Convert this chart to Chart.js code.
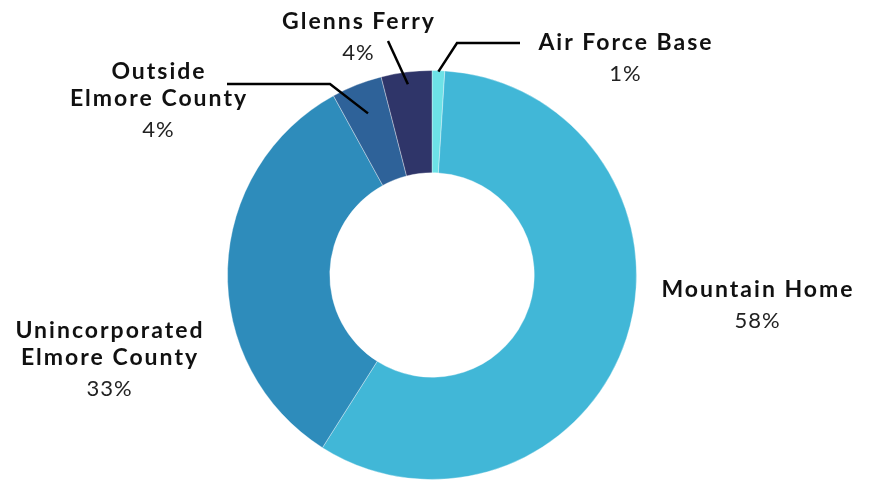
<!DOCTYPE html>
<html>
<head>
<meta charset="utf-8">
<script src="https://cdn.jsdelivr.net/npm/chart.js@4"></script>
<style>
html,body{margin:0;padding:0;background:#fff;}
#wrap{width:871px;height:480px;position:relative;}
</style>
</head>
<body>
<div id="wrap"><canvas id="c" width="871" height="480"></canvas></div>
<script>
const categories = ["Air Force Base", "Mountain Home", "Unincorporated Elmore County", "Outside Elmore County", "Glenns Ferry"];
const values = [1, 58, 33, 4, 4];
const percentLabels = ["1%", "58%", "33%", "4%", "4%"];
const nameLines = [["Air Force Base"], ["Mountain Home"], ["Unincorporated", "Elmore County"], ["Outside", "Elmore County"], ["Glenns Ferry"]];
const colors = ["#6de2e7", "#41b7d7", "#2e8cbb", "#2e6299", "#2f3569"];

// label layout (text centre x, first line centre y, leader info)
const labelLayout = [
  {x: 625, y: 43, anchorR: 0.995, elbow: [457, 43], end: [520, 43]},
  {x: 757, y: 290, anchorR: null},
  {x: 109, y: 331, anchorR: null},
  {x: 158, y: 72, anchorR: 0.85, elbow: [330, 84], end: [227, 84]},
  {x: 358, y: 22, anchorR: 0.94, elbow: [388, 41], end: null}
];

const labelPlugin = {
  id: 'calloutLabels',
  afterDraw(chart) {
    const ctx = chart.ctx;
    const meta = chart.getDatasetMeta(0);
    ctx.save();
    meta.data.forEach((arc, i) => {
      const L = labelLayout[i];
      if (L.anchorR) {
        const p = arc.getProps(['x','y','startAngle','endAngle','outerRadius'], true);
        const mid = (p.startAngle + p.endAngle) / 2;
        const r = p.outerRadius * L.anchorR;
        const ax = p.x + Math.cos(mid) * r;
        const ay = p.y + Math.sin(mid) * r;
        ctx.beginPath();
        ctx.moveTo(ax, ay);
        ctx.lineTo(L.elbow[0], L.elbow[1]);
        if (L.end) ctx.lineTo(L.end[0], L.end[1]);
        ctx.strokeStyle = '#000';
        ctx.lineWidth = 2.5;
        ctx.lineCap = 'butt';
        ctx.lineJoin = 'miter';
        ctx.stroke();
      }
      ctx.textAlign = 'center';
      ctx.textBaseline = 'middle';
      ctx.fillStyle = '#111';
      ctx.font = 'bold 23px Lato';
      ctx.letterSpacing = '2px';
      let y = L.y;
      nameLines[i].forEach((ln) => {
        ctx.fillText(ln, L.x + 1, y);
        y += 27;
      });
      ctx.font = '22px Lato';
      ctx.letterSpacing = '1px';
      ctx.fillStyle = '#222';
      ctx.fillText(percentLabels[i], L.x + 0.5, y + 4);
    });
    ctx.restore();
  }
};

new Chart(document.getElementById('c'), {
  type: 'doughnut',
  data: {
    labels: categories,
    datasets: [{
      data: values,
      backgroundColor: colors,
      borderColor: 'rgba(255,255,255,0.35)',
      borderWidth: 1
    }]
  },
  options: {
    responsive: false,
    animation: false,
    cutout: '50%',
    layout: {padding: {left: 227, right: 234, top: 70, bottom: 0}},
    plugins: {legend: {display: false}, tooltip: {enabled: false}}
  },
  plugins: [labelPlugin]
});
</script>
</body>
</html>
